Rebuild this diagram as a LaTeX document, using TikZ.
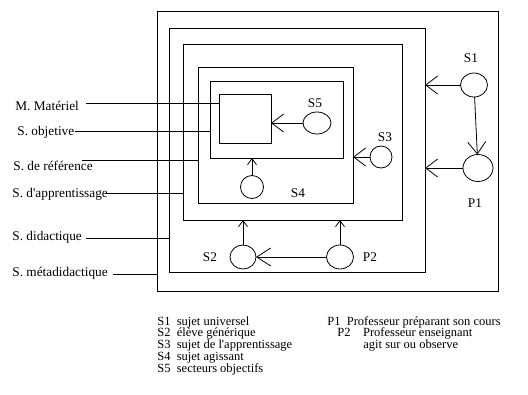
\documentclass[tikz,border=0pt]{standalone}
\usepackage{fontspec}
\setmainfont{Liberation Serif}
\usetikzlibrary{arrows.meta,shapes.geometric}

\tikzset{
  boite/.style={draw,rectangle,inner sep=0pt,outer sep=0pt},
  sujet/.style={draw,ellipse,inner sep=0pt,outer sep=0pt},
  grande/.style={-{Straight Barb[length=12pt,width=18pt]}},
  petite/.style={-{Straight Barb[length=6pt,width=9pt]}},
}

\begin{document}
\begin{tikzpicture}[x=1pt,y=-1pt,line width=0.8pt,
    font=\fontsize{13.3}{15}\selectfont]
      \useasboundingbox (0,0) rectangle (528,394);

      % les systemes emboites
      \begin{scope}[every node/.style={boite}]
        \node[minimum width=341pt,minimum height=280pt] (meta) at (327.5,151) {};
        \node[minimum width=256pt,minimum height=244pt] (did)  at (297,150)   {};
        \node[minimum width=219pt,minimum height=176pt] (app)  at (292.5,132) {};
        \node[minimum width=155pt,minimum height=136pt] (ref)  at (275.5,135) {};
        \node[minimum width=133pt,minimum height=77pt]  (obj)  at (276.5,119.5) {};
        \node[minimum width=52pt,minimum height=49pt]   (mat)  at (245,118.5) {};
      \end{scope}

      % les sujets
      \begin{scope}[every node/.style={sujet}]
        \node[minimum width=27pt,minimum height=24pt] (s1) at (474,85)  {};
        \node[minimum width=30pt,minimum height=27pt] (p1) at (478,168) {};
        \node[minimum width=28pt,minimum height=22pt] (s5) at (317,123) {};
        \node[minimum width=22pt,minimum height=22pt] (s3) at (381,157) {};
        \node[minimum width=23pt,minimum height=23pt] (s4) at (252,187) {};
        \node[minimum width=26pt,minimum height=24pt] (s2) at (243,257) {};
        \node[minimum width=27pt,minimum height=24pt] (p2) at (340,257) {};
      \end{scope}

      \node (ts1) at (471,58)  {S1};
      \node (tp1) at (475,203) {P1};
      \node (ts5) at (315,103) {S5};
      \node (ts3) at (385,137) {S3};
      \node (ts4) at (298,193) {S4};
      \node (ts2) at (210,257) {S2};
      \node (tp2) at (370,257) {P2};

      % noms des systemes
      \begin{scope}[every node/.style={anchor=west,inner sep=0pt}]
        \node (lmat)  at (15,106) {M. Matériel};
        \node (lobj)  at (17,132) {S. objetive};
        \node (lref)  at (13,166) {S. de référence};
        \node (lapp)  at (12,194) {S. d\textquotesingle apprentissage};
        \node (ldid)  at (12,237) {S. didactique};
        \node (lmeta) at (12,273) {S. métadidactique};
      \end{scope}

      \coordinate (cmat)  at (86,103);
      \coordinate (cobj)  at (75,131);
      \coordinate (cref)  at (82,160);
      \coordinate (capp)  at (105,193);
      \coordinate (cdid)  at (86,238);
      \coordinate (cmeta) at (113,274);

      \begin{scope}[every edge/.style={draw}]
        \path (cmat)  edge (cmat -| mat.west);
        \path (cobj)  edge (cobj -| obj.west);
        \path (cref)  edge (cref -| ref.west);
        \path (capp)  edge (capp -| app.west);
        \path (cdid)  edge (cdid -| did.west);
        \path (cmeta) edge (cmeta -| meta.west);

        \path (s1) edge[grande] (s1 -| did.east);
        \path (p1) edge[grande] (p1 -| did.east);
        \path (s1) edge[grande] (p1);
        \path (s5) edge[grande] (s5 -| mat.east);
        \path (s3) edge[grande] (s3 -| ref.east);
        \path (s4) edge[petite] (s4 |- obj.south);
        \path (s2) edge[petite] (s2 |- app.south);
        \path (p2) edge[petite] (p2 |- app.south);
        \path (s2) edge[grande,{Straight Barb[length=14pt,width=18pt]}-] (p2);
      \end{scope}

      % legende
      \begin{scope}[every node/.style={anchor=west,inner sep=0pt,
          font=\fontsize{12.5}{14}\selectfont}]
        \node (leg1) at (157,322)   {S1\enspace sujet universel};
        \node (leg2) at (157,333.8) {S2\enspace élève générique};
        \node (leg3) at (157,345.6) {S3\enspace sujet de l\textquotesingle apprentissage};
        \node (leg4) at (157,357.4) {S4\enspace sujet agissant};
        \node (leg5) at (157,369.2) {S5\enspace secteurs objectifs};
        \node (leg6) at (327,322)   {P1\enspace Professeur préparant son cours};
        \node (leg7) at (337,333.8) {P2\quad Professeur enseignant};
        \node (leg8) at (363,345.6) {agit sur ou observe};
      \end{scope}

    \end{tikzpicture}
\end{document}
